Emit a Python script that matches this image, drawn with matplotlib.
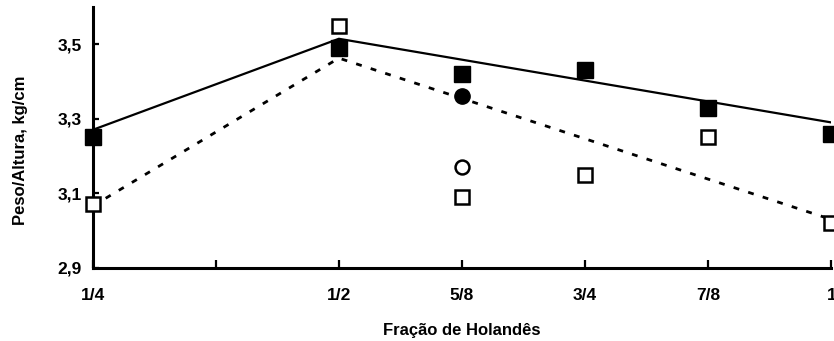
import matplotlib
matplotlib.use('Agg')
import matplotlib.pyplot as plt

# fração de Holandês (em oitavos) e valores de peso/altura
fracao = [0.25, 0.5, 0.625, 0.75, 0.875, 1.0]
grupo_cheio = [3.25, 3.49, 3.42, 3.43, 3.33, 3.26]
grupo_vazio = [3.07, 3.55, 3.09, 3.15, 3.25, 3.02]

# pontos extras em 5/8
circ_x = [0.625]
circ_cheio = [3.36]
circ_vazio = [3.17]

# linhas ajustadas (segmentadas em 1/2)
ajuste_x = [0.25, 0.5, 1.0]
ajuste_cheio = [3.27, 3.515, 3.29]
ajuste_vazio = [3.065, 3.463, 3.029]

xticks = [0.25, 0.375, 0.5, 0.625, 0.75, 0.875, 1.0]
xlabels = ['1/4', '', '1/2', '5/8', '3/4', '7/8', '1']
yticks = [2.9, 3.1, 3.3, 3.5]
ylabels = ['2,9', '3,1', '3,3', '3,5']

plt.rcParams['font.family'] = ['Liberation Sans', 'DejaVu Sans']
plt.rcParams['font.weight'] = 'bold'
fs = 12.5

fig = plt.figure(figsize=(8.34, 3.41), dpi=100)
ax = fig.add_axes([0.111, 0.2155, 0.886, 0.7635])

ax.plot(ajuste_x, ajuste_cheio, color='black', lw=1.6, zorder=2)
ax.plot(ajuste_x, ajuste_vazio, color='black', lw=2, dashes=(2.1, 3.4), zorder=2)

ax.plot(fracao, grupo_cheio, 's', color='black', ms=11.5, clip_on=False, zorder=3)
ax.plot(fracao, grupo_vazio, 's', mfc='white', mec='black', mew=1.8, ms=10.5,
        clip_on=False, zorder=3)
ax.plot(circ_x, circ_cheio, 'o', color='black', ms=11, clip_on=False, zorder=3)
ax.plot(circ_x, circ_vazio, 'o', mfc='white', mec='black', mew=1.8, ms=10,
        clip_on=False, zorder=3)

ax.set_xlim(0.25, 1.0)
ax.set_ylim(2.9, 3.6)

ax.spines['top'].set_visible(False)
ax.spines['right'].set_visible(False)
ax.spines['left'].set_linewidth(2.2)
ax.spines['bottom'].set_linewidth(2.2)

ax.set_xticks(xticks)
ax.set_xticklabels(xlabels)
ax.set_yticks(yticks)
ax.set_yticklabels(ylabels)
ax.tick_params(axis='x', direction='in', length=6, width=1.6, pad=15, labelsize=fs)
ax.tick_params(axis='y', direction='in', length=4, width=1.6, pad=8, labelsize=fs)

ax.set_xlabel('Fração de Holandês', fontsize=12, fontweight='bold', labelpad=14)
ax.set_ylabel('Peso/Altura, kg/cm', fontsize=12, fontweight='bold')
ax.yaxis.set_label_coords(-0.088, 0.451)

fig.savefig('out.png', dpi=100)
